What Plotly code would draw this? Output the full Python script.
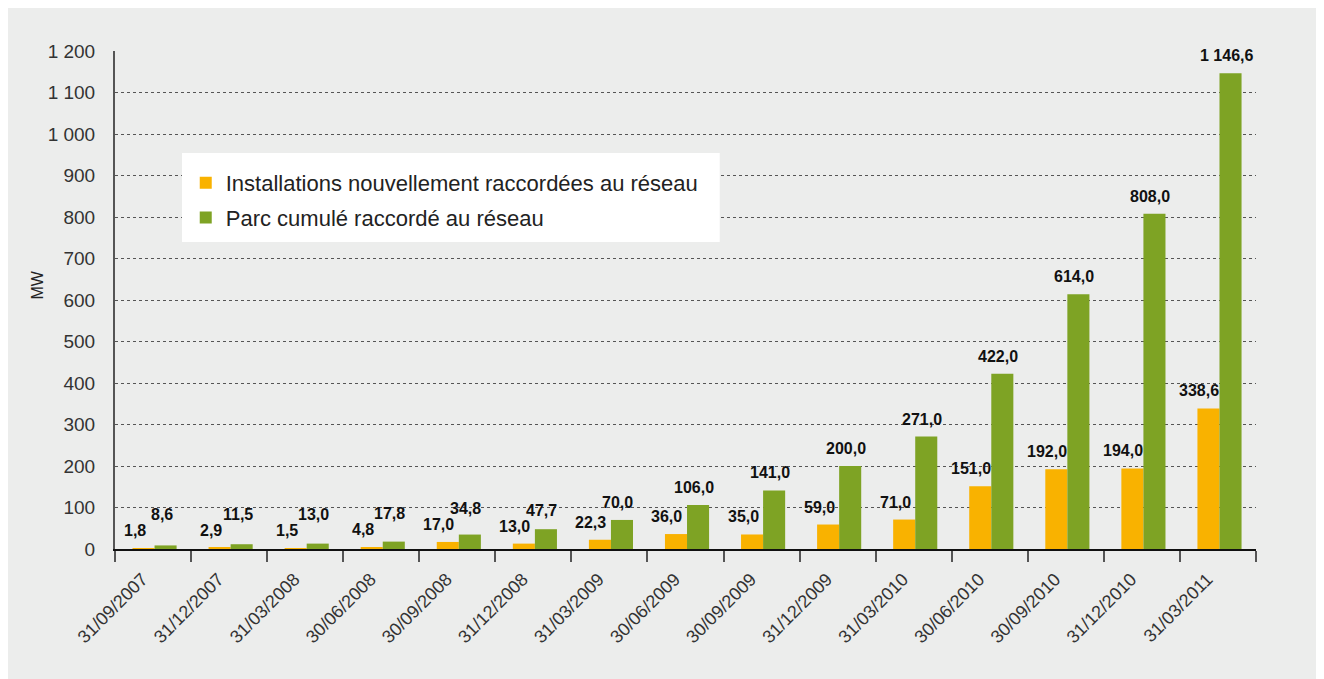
import plotly.graph_objects as go

dates = ["31/09/2007", "31/12/2007", "31/03/2008", "30/06/2008", "30/09/2008",
         "31/12/2008", "31/03/2009", "30/06/2009", "30/09/2009", "31/12/2009",
         "31/03/2010", "30/06/2010", "30/09/2010", "31/12/2010", "31/03/2011"]
new_mw = [1.8, 2.9, 1.5, 4.8, 17.0, 13.0, 22.3, 36.0, 35.0, 59.0, 71.0, 151.0, 192.0, 194.0, 338.6]
cum_mw = [8.6, 11.5, 13.0, 17.8, 34.8, 47.7, 70.0, 106.0, 141.0, 200.0, 271.0, 422.0, 614.0, 808.0, 1146.6]
y_ticks = [0, 100, 200, 300, 400, 500, 600, 700, 800, 900, 1000, 1100, 1200]
y_ticklabels = ["0", "100", "200", "300", "400", "500", "600", "700", "800", "900", "1 000", "1 100", "1 200"]

ORANGE = "#f9b200"
GREEN = "#7ea324"
BG = "#ecedec"
FONT = "Liberation Sans"

PLOT_H = 498
Y_MAX = 1200
PX = PLOT_H / Y_MAX


def fr(v):
    return f"{v:,.1f}".replace(",", " ").replace(".", ",")


BW = 0.29
SH = 0.02
fig = go.Figure()
fig.add_trace(go.Bar(x=dates, y=new_mw, name="Installations nouvellement raccordées au réseau",
                     legendgroup="a",
                     marker=dict(color=ORANGE, line=dict(width=0)), width=BW, offset=-BW + SH))
fig.add_trace(go.Bar(x=dates, y=cum_mw, name="Parc cumulé raccordé au réseau",
                     legendgroup="b",
                     marker=dict(color=GREEN, line=dict(width=0)), width=BW, offset=SH))

ann = []
lab_font = dict(family=FONT, size=16, color="#111")
for i, (a, b) in enumerate(zip(new_mw, cum_mw)):
    ann.append(dict(x=i + SH - BW / 2, y=a, xref="x", yref="y", text="<b>" + fr(a) + "</b>", showarrow=False,
                    xanchor="center", yanchor="bottom", xshift=-9, yshift=7, font=lab_font))
    lift = max(0.0, (a * PX + 16) - b * PX)
    ann.append(dict(x=i + SH + BW / 2, y=b, xref="x", yref="y", text="<b>" + fr(b) + "</b>", showarrow=False,
                    xanchor="center", yanchor="bottom", xshift=-4, yshift=7 + lift, font=lab_font))
ann.append(dict(x=-0.068, y=0.53, xref="paper", yref="paper", text="MW", textangle=-90, showarrow=False,
                xanchor="center", yanchor="middle", font=dict(family=FONT, size=16, color="#222")))

fig.update_layout(
    width=1309, height=671,
    margin=dict(l=107, r=61, t=43, b=130),
    paper_bgcolor=BG,
    plot_bgcolor=BG,
    barmode="overlay",
    showlegend=True,
    legend=dict(x=0.062, y=0.777, xanchor="left", yanchor="top",
                bgcolor="rgba(0,0,0,0)", borderwidth=0,
                font=dict(family=FONT, size=22, color="#222"),
                tracegroupgap=3, itemwidth=30),
    annotations=ann,
    shapes=[dict(type="rect", xref="paper", yref="paper", x0=0.0587, x1=0.530, y0=0.6165, y1=0.795,
                 fillcolor="white", line=dict(width=0), layer="above")],
    xaxis=dict(
        type="category",
        range=[-0.5, len(dates) - 0.5],
        tickmode="array", tickvals=dates, ticktext=[d + "\u00a0\u00a0\u00a0" for d in dates],
        tickangle=-45,
        tickfont=dict(family=FONT, size=18, color="#333"),
        showgrid=False, zeroline=False,
        showline=True, linecolor="#111", linewidth=2,
        ticks="outside", tickson="boundaries", ticklen=11, tickwidth=2, tickcolor="#555",
    ),
    yaxis=dict(
        range=[0, Y_MAX],
        tickmode="array", tickvals=y_ticks, ticktext=y_ticklabels,
        tickfont=dict(family=FONT, size=19, color="#333"),
        showgrid=True, gridcolor="#555", griddash="dot", gridwidth=1,
        zeroline=False, showline=True, linecolor="#555", linewidth=2,
        ticks="outside", ticklen=14, tickcolor=BG,
    ),
)

fig.write_html("out.html")
